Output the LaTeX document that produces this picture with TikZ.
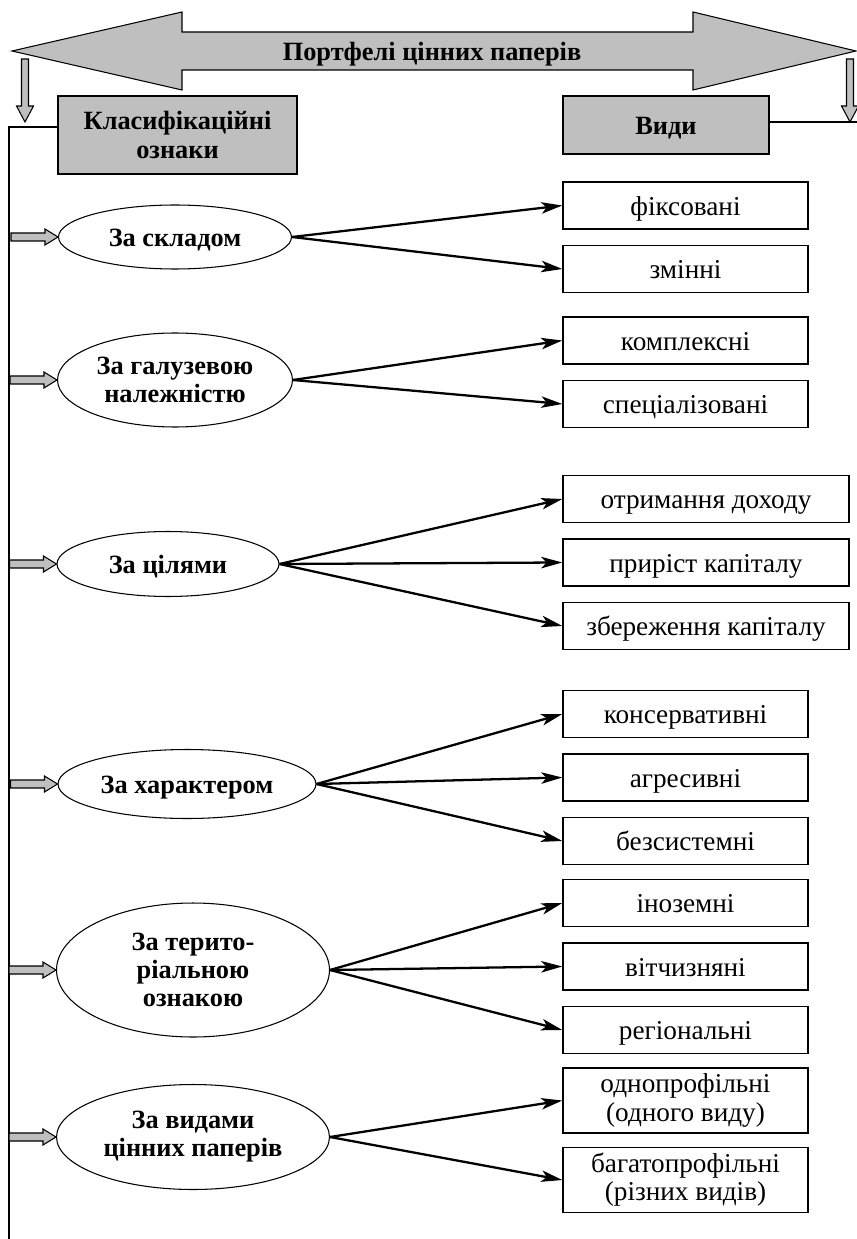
\documentclass[tikz,border=0pt]{standalone}
\usepackage{fontspec}
\setmainfont{Liberation Serif}
\usetikzlibrary{arrows.meta,shapes.geometric,positioning}

% сіра стрілка від лінії до ознаки
\newcommand{\vkaz}[1]{\draw[sira] (#1.west) -- ++(-13,-8) -- ++(0,4) -- ++(-34,0)
  -- ++(0,8) -- ++(34,0) -- ++(0,4) -- cycle;}

\begin{document}
\begin{tikzpicture}[x=0.02cm,y=-0.02cm,>={Stealth[length=12pt,width=6.5pt,inset=3pt]},
    node distance=1.27cm, thick,
    vydbox/.style={rectangle, draw=black, minimum width=4.9cm, minimum height=0.94cm,
      font=\fontsize{15.5}{16}\selectfont, align=center, inner sep=2pt},
    shyrbox/.style={vydbox, minimum width=5.72cm},
    ryadok/.style={text height=15.5pt, text depth=4.2pt},
    oznaka/.style={ellipse, draw=black, semithick, font=\fontsize{15}{16}\selectfont\bfseries,
      align=center, inner sep=0pt},
    sirbox/.style={rectangle, draw=black, fill=black!25, font=\fontsize{15}{16}\selectfont\bfseries,
      align=center},
    strilka/.style={->, line width=1.3pt},
    sira/.style={draw=black, fill=black!25, semithick}]
  \useasboundingbox (0,0) rectangle (857,1239);

  % велика стрілка
  \draw[sira] (12,51) -- (182,12) -- (182,32) -- (693,32) -- (693,12) -- (856,51)
    -- (693,90) -- (693,70) -- (182,70) -- (182,90) -- cycle;
  \node[font=\fontsize{15}{16}\selectfont\bfseries, ryadok] (portfel) at (432,51) {Портфелі цінних паперів};
  \draw[sira] (21.5,59) -- (28.5,59) -- (28.5,106) -- (33.5,106) -- (25,122) -- (16.5,106)
    -- (21.5,106) -- cycle;
  \draw[sira] (846.5,59) -- (853.5,59) -- (853.5,106) -- (858.5,106) -- (850,122) -- (841.5,106)
    -- (846.5,106) -- cycle;

  \node[sirbox, minimum width=4.78cm, minimum height=1.56cm] (klas) at (177.5,135) {Класифікаційні\\ознаки};
  \node[sirbox, ryadok, minimum width=4.12cm, minimum height=1.16cm] (vydy) at (666,125) {Види};

  \coordinate (kut) at (9,127);
  \coordinate (niz) at (9,1239);
  \coordinate (kray) at (857,122);
  \draw (niz) -- (kut) -- (kut -| klas.west);
  \draw (vydy.east |- kray) -- (kray);

  % ознаки
  \node[oznaka, ryadok, minimum width=4.66cm, minimum height=1.28cm] (skl) at (175,237) {За складом};
  \node[oznaka, minimum width=4.7cm, minimum height=1.88cm] (galuz) at (175,380) {За галузевою\\належністю};
  \node[oznaka, ryadok, minimum width=4.44cm, minimum height=1.3cm] (tsil) at (168,564) {За цілями};
  \node[oznaka, ryadok, minimum width=5.16cm, minimum height=1.38cm] (khar) at (187,784) {За характером};
  \node[oznaka, minimum width=5.46cm, minimum height=2.68cm] (ter) at (193,970) {За терито-\\ріальною\\ознакою};
  \node[oznaka, minimum width=5.46cm, minimum height=2.1cm] (vyd) at (193,1137) {За видами\\цінних паперів};

  \foreach \o in {skl,galuz,tsil,khar,ter,vyd} {\vkaz{\o}}

  % види
  \node[vydbox, ryadok] (fiks) at (685.5,205.5) {фіксовані};
  \node[vydbox, ryadok] (zmin) [below of=fiks] {змінні};
  \node[vydbox, ryadok] (kompl) at (685.5,340.5) {комплексні};
  \node[vydbox, ryadok] (spets) [below of=kompl] {спеціалізовані};
  \node[shyrbox, ryadok] (dokh) at (706,499) {отримання доходу};
  \node[shyrbox, ryadok] (pryr) [below of=dokh] {приріст капіталу};
  \node[shyrbox, ryadok] (zber) [below of=pryr] {збереження капіталу};
  \node[vydbox, ryadok] (kons) at (685.5,714) {консервативні};
  \node[vydbox, ryadok] (agr) [below of=kons] {агресивні};
  \node[vydbox, ryadok] (bezs) [below of=agr] {безсистемні};
  \node[vydbox, ryadok] (inoz) at (685.5,903) {іноземні};
  \node[vydbox, ryadok] (vitch) [below of=inoz] {вітчизняні};
  \node[vydbox, ryadok] (reg) [below of=vitch] {регіональні};
  \node[vydbox, minimum height=1.3cm] (odno) at (685.5,1100.5) {однопрофільні\\(одного виду)};
  \node[vydbox, minimum height=1.3cm, node distance=1.59cm] (bag) [below of=odno] {багатопрофільні\\(різних видів)};

  \path[strilka] (skl.east) edge (fiks.west) edge (zmin.west)
    (galuz.east) edge (kompl.west) edge (spets.west)
    (tsil.east) edge (dokh.west) edge (pryr.west) edge (zber.west)
    (khar.east) edge (kons.west) edge (agr.west) edge (bezs.west)
    (ter.east) edge (inoz.west) edge (vitch.west) edge (reg.west)
    (vyd.east) edge (odno.west) edge (bag.west);
\end{tikzpicture}
\end{document}
